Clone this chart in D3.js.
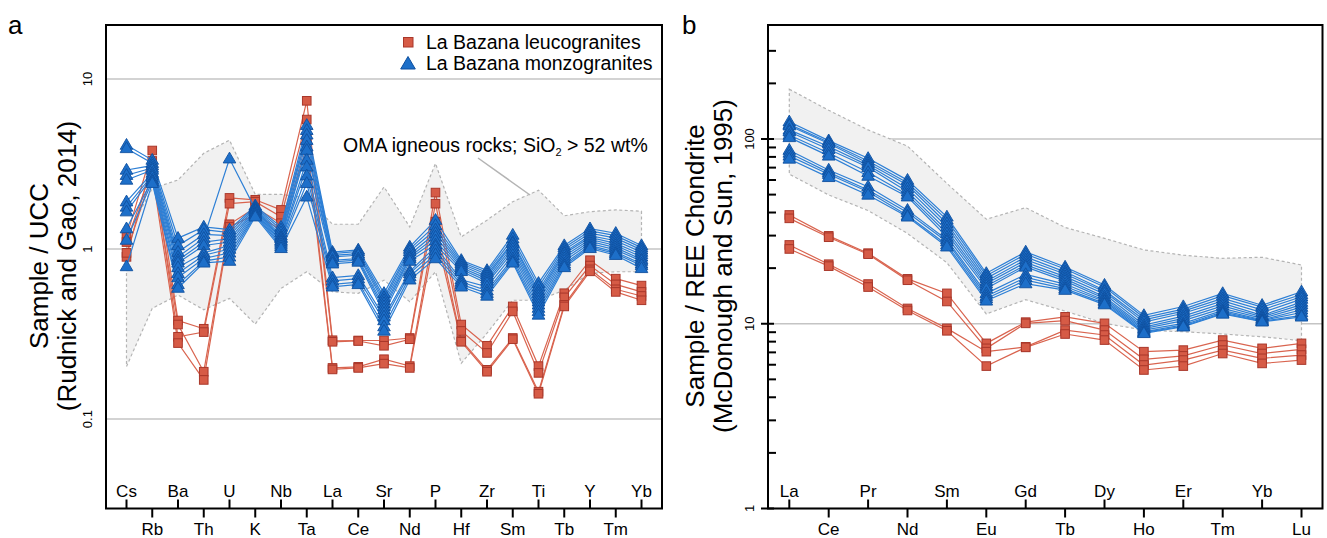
<!DOCTYPE html>
<html><head><meta charset="utf-8">
<script src="https://cdn.jsdelivr.net/npm/d3@7"></script>
<style>
body{margin:0;background:#fff;}
text{font-family:"Liberation Sans",Arial,Helvetica,sans-serif;fill:#000;}
</style></head><body>
<svg id="chart" width="1327" height="538"></svg>
<script>
// ---------- categories ----------
const spiderElements = ["Cs","Rb","Ba","Th","U","K","Nb","Ta","La","Ce","Sr","Nd","P","Hf","Zr","Sm","Ti","Tb","Y","Tm","Yb"];
const reeElements = ["La","Ce","Pr","Nd","Sm","Eu","Gd","Tb","Dy","Ho","Er","Tm","Yb","Lu"];
const yTicksA = [0.1, 1, 10];
const yTicksB = [1, 10, 100];
const yMinorB = [2,3,4,5,6,7,8,9,20,30,40,50,60,70,80,90,200,300];
const seriesNames = ["La Bazana leucogranites", "La Bazana monzogranites"];

// ---------- OMA envelope (panel a, UCC-normalised) ----------
const omaUpper = [1.2,2.27,2.55,3.66,4.37,2.1,2.1,2.0,1.40,1.40,2.32,1.35,3.19,1.18,1.48,1.9,2.22,1.57,1.66,1.7,1.67];
const omaLower = [0.204,0.448,0.537,0.44,0.513,0.362,0.587,0.736,0.561,0.549,0.657,0.49,0.736,0.213,0.32,0.5,0.5,0.574,0.72,0.736,0.736];

// ---------- OMA envelope (panel b, chondrite-normalised) ----------
const reeUpper = [186,143,112,91.5,57.5,36.8,42.5,33.2,29,25.1,23.5,22.6,22.9,20.8];
const reeLower = [64.5,49.8,41,30.8,21.4,11.3,13.5,11.7,10.05,9.24,9.05,8.8,8.5,8.1];

// ---------- leucogranites, UCC-normalised (one row per sample) ----------
const leucoUCC = [
  [1.18,3.8,0.38,0.34,2.0,1.95,1.7,7.45,0.291,0.29,0.29,0.3,2.15,0.36,0.27,0.46,0.205,0.55,0.86,0.67,0.61],
  [0.9,3.3,0.305,0.325,1.85,1.9,1.55,5.78,0.285,0.288,0.27,0.295,1.85,0.33,0.245,0.43,0.187,0.52,0.8,0.62,0.56],
  [1.1,3.0,0.36,0.19,1.4,1.75,1.42,4.5,0.2,0.203,0.225,0.205,1.45,0.29,0.195,0.3,0.145,0.47,0.76,0.58,0.53],
  [0.95,2.8,0.28,0.17,1.35,1.6,1.3,4.0,0.196,0.2,0.212,0.2,1.25,0.285,0.19,0.295,0.141,0.46,0.74,0.56,0.5]
];

// ---------- monzogranites, UCC-normalised (one row per element, 11 samples) ----------
const monzoUCCByElement = [
  [4.09,3.91,2.92,2.72,2.55,1.90,1.77,1.66,1.32,1.13,0.79], // Cs
  [3.34,3.2,3.1,3.0,2.92,2.8,2.72,2.65,2.55,2.5,2.44],      // Rb
  [1.16,1.05,0.96,0.9,0.86,0.83,0.78,0.72,0.68,0.62,0.59],  // Ba
  [1.35,1.3,1.22,1.16,1.1,1.05,0.95,0.92,0.88,0.85,0.83],   // Th
  [1.3,1.25,1.2,3.4,1.15,1.1,1.05,1.0,0.95,0.9,0.85],       // U
  [1.8,1.77,1.74,1.72,1.7,1.68,1.65,1.62,1.6,1.58,1.55],    // K
  [1.35,1.3,1.25,1.2,1.17,1.15,1.12,1.1,1.07,1.04,1.01],    // Nb
  [5.35,5.0,4.7,4.37,4.0,3.82,3.34,3.05,2.7,2.44,2.03],     // Ta
  [0.96,0.94,0.92,0.9,0.86,0.84,0.82,0.68,0.65,0.62,0.6],   // La
  [0.99,0.97,0.94,0.92,0.88,0.86,0.84,0.7,0.67,0.64,0.62],  // Ce
  [0.55,0.52,0.5,0.48,0.46,0.44,0.42,0.4,0.38,0.35,0.33],   // Sr
  [1.03,1.0,0.97,0.93,0.9,0.88,0.85,0.74,0.72,0.69,0.66],   // Nd
  [1.48,1.38,1.3,1.24,1.18,1.12,1.06,1.03,0.98,0.93,0.88],  // P
  [0.86,0.84,0.82,0.8,0.78,0.76,0.74,0.66,0.64,0.62,0.6],   // Hf
  [0.75,0.73,0.71,0.69,0.67,0.65,0.63,0.6,0.57,0.55,0.53],  // Zr
  [1.21,1.15,1.1,1.08,1.04,1.0,0.96,0.92,0.88,0.85,0.83],   // Sm
  [0.63,0.6,0.57,0.55,0.53,0.51,0.49,0.47,0.45,0.43,0.41],  // Ti
  [1.05,1.02,0.99,0.96,0.94,0.91,0.88,0.85,0.82,0.8,0.78],  // Tb
  [1.32,1.28,1.24,1.2,1.17,1.14,1.11,1.08,1.05,1.03,1.01],  // Y
  [1.24,1.2,1.16,1.12,1.08,1.05,1.02,0.99,0.96,0.94,0.92],  // Tm
  [1.05,1.02,0.99,0.96,0.93,0.9,0.87,0.85,0.82,0.8,0.77]    // Yb
];

// ---------- leucogranites, chondrite-normalised (one row per sample) ----------
const leucoREE = [
  [38.8,29.9,24.1,17.5,14.6,7.83,10.2,10.9,10.05,7.06,7.2,8.16,7.36,7.83],
  [37.2,29.4,23.8,17.2,13.2,7.36,10.05,10.4,9.24,6.42,6.7,7.67,6.9,7.27],
  [26.7,21.0,16.4,12.1,9.44,7.06,7.5,9.24,8.69,5.98,6.36,7.2,6.5,6.77],
  [25.4,20.5,15.8,11.8,9.16,5.9,7.45,8.8,8.16,5.62,5.9,6.9,6.1,6.36]
];

// ---------- monzogranites, chondrite-normalised (one row per element, 11 samples) ----------
const monzoREEByElement = [
  [124,120,118,112,109.5,105,102,87,84,81,78],             // La
  [98,96,94.5,91,88,84,81,68,66,64.5,62],                  // Ce
  [78.6,76,73.9,72,70.3,66,63,55.2,53,51.8,49.8],          // Pr
  [59.9,58,56.3,54,51.8,50,48.7,41.2,40,38.5,37.9],        // Nd
  [37.9,36.5,34.9,33.5,32,30.8,29.5,28.5,27.8,26.8,26.1],  // Sm
  [18.75,18.2,17.6,17,16.5,16,15.5,14.6,14.1,13.7,13.3],   // Eu
  [24.5,23.8,23.0,22.2,21.5,20.8,20.3,18.5,17.8,17.2,16.5],// Gd
  [20.3,19.8,19.1,18.6,18.0,17.5,17.0,16.4,15.9,15.5,15.2],// Tb
  [16.2,15.8,15.2,14.9,14.5,14.0,13.7,13.4,13.2,12.9,12.7],// Dy
  [11.1,10.8,10.5,10.2,9.84,9.6,9.4,9.24,9.05,8.95,8.87],  // Ho
  [12.4,12.0,11.7,11.4,11.0,10.7,10.4,10.05,9.85,9.7,9.63],// Er
  [14.6,14.2,13.7,13.3,12.9,12.5,12.1,11.8,11.6,11.4,11.3],// Tm
  [12.6,12.3,11.9,11.5,11.1,10.9,10.7,10.5,10.4,10.3,10.25],// Yb
  [14.9,14.4,14.0,13.6,13.1,12.7,12.3,11.9,11.5,11.1,10.9] // Lu
];

// ================= drawing =================
const svg = d3.select("#chart");
const FONT = '"Liberation Sans",Arial,Helvetica,sans-serif';
const RED = {fill:"#d65b46", stroke:"#a9372a", line:"#d9644f"};
const BLUE = {fill:"#1d6fc9", stroke:"#0e4f9e", line:"#2d7fd5"};
const triPath = "M0,-6.6L6.3,4.2L-6.3,4.2Z";

const PA = {x0:106, x1:662, y0:25, y1:508.5};
const PB = {x0:768, x1:1322.5, y0:25, y1:508.5};

const xA = d3.scalePoint().domain(spiderElements).range([126.5, 641.5]);
const yA = d3.scaleLog().domain([0.0298, 20.8]).range([PA.y1, PA.y0]);
const xB = d3.scalePoint().domain(reeElements).range([789.3, 1301.5]);
const yB = d3.scaleLog().domain([1, 414]).range([PB.y1, PB.y0]);

function drawPanel(g, P, elems, x, y, gridTicks, upper, lower, leuco, monzo) {
  // grid
  g.selectAll(".grid").data(gridTicks).join("line")
    .attr("x1", P.x0).attr("x2", P.x1)
    .attr("y1", d => y(d)).attr("y2", d => y(d))
    .attr("stroke", "#c4c4c4").attr("stroke-width", 1.5);
  // envelope
  const env = elems.map((e, i) => ({e, u: upper[i], l: lower[i]}));
  g.append("path").datum(env)
    .attr("d", d3.area().x(d => x(d.e)).y0(d => y(d.l)).y1(d => y(d.u)))
    .attr("fill", "#f1f1f1");
  const outline = env.map(d => [x(d.e), y(d.u)]).concat(env.slice().reverse().map(d => [x(d.e), y(d.l)]));
  g.append("path").attr("d", d3.line()(outline) + "Z")
    .attr("fill", "none").attr("stroke", "#b4b4b4").attr("stroke-width", 1.2)
    .attr("stroke-dasharray", "3,2.5");

  const line = d3.line().x((v, i) => x(elems[i])).y(v => y(v));
  function series(rows, col, marker) {
    const gs = g.append("g");
    gs.selectAll("path.l").data(rows).join("path")
      .attr("d", line).attr("fill", "none")
      .attr("stroke", col.line).attr("stroke-width", 1.2);
    rows.forEach(r => {
      const pts = r.map((v, i) => [x(elems[i]), y(v)]);
      if (marker === "sq") {
        gs.append("g").selectAll("rect").data(pts).join("rect")
          .attr("x", d => d[0] - 4.3).attr("y", d => d[1] - 4.3)
          .attr("width", 8.6).attr("height", 8.6)
          .attr("fill", col.fill).attr("stroke", col.stroke).attr("stroke-width", 1);
      } else {
        gs.append("g").selectAll("path").data(pts).join("path")
          .attr("d", triPath).attr("transform", d => `translate(${d[0]},${d[1]})`)
          .attr("fill", col.fill).attr("stroke", col.stroke).attr("stroke-width", 0.9);
      }
    });
  }
  series(leuco, RED, "sq");
  series(monzo, BLUE, "tri");

  // frame
  g.append("rect").attr("x", P.x0).attr("y", P.y0)
    .attr("width", P.x1 - P.x0).attr("height", P.y1 - P.y0)
    .attr("fill", "none").attr("stroke", "#000").attr("stroke-width", 2);

  // x ticks & labels, alternating
  elems.forEach((e, i) => {
    const up = i % 2 === 0;
    g.append("line").attr("x1", x(e)).attr("x2", x(e))
      .attr("y1", P.y1).attr("y2", up ? P.y1 - 9 : P.y1 + 9)
      .attr("stroke", "#000").attr("stroke-width", 2);
    g.append("text").attr("x", x(e)).attr("y", up ? P.y1 - 12 : P.y1 + 26)
      .attr("text-anchor", "middle").style("font-size", "17px").text(e);
  });
}

const gA = svg.append("g");
drawPanel(gA, PA, spiderElements, xA, yA, yTicksA, omaUpper, omaLower, leucoUCC, d3.transpose(monzoUCCByElement));
const gB = svg.append("g");
drawPanel(gB, PB, reeElements, xB, yB, yTicksB, reeUpper, reeLower, leucoREE, d3.transpose(monzoREEByElement));

// y tick labels panel a (no tick marks)
yTicksA.forEach(t => {
  svg.append("text").attr("transform", `translate(92,${yA(t)}) rotate(-90)`)
    .attr("text-anchor", "middle").style("font-size", "13px").text(d3.format("~g")(t));
});
// y ticks panel b
yTicksB.forEach(t => {
  svg.append("line").attr("x1", PB.x0 - 7).attr("x2", PB.x0 + 6)
    .attr("y1", yB(t)).attr("y2", yB(t)).attr("stroke", "#000").attr("stroke-width", 2);
  svg.append("text").attr("transform", `translate(754,${yB(t)}) rotate(-90)`)
    .attr("text-anchor", "middle").style("font-size", "13px").text(t);
});
yMinorB.forEach(t => {
  svg.append("line").attr("x1", PB.x0).attr("x2", PB.x0 + 8)
    .attr("y1", yB(t)).attr("y2", yB(t)).attr("stroke", "#000").attr("stroke-width", 2);
});

// axis titles
function vtitle(xb, text, cy) {
  svg.append("text").attr("transform", `translate(${xb},${cy}) rotate(-90)`)
    .attr("text-anchor", "middle").style("font-size", "26px").text(text);
}
vtitle(48, "Sample / UCC", 266);
vtitle(76, "(Rudnick and Gao, 2014)", 266);
vtitle(704, "Sample / REE Chondrite", 266);
vtitle(732, "(McDonough and Sun, 1995)", 266);

// panel letters
svg.append("text").attr("x", 8).attr("y", 34).style("font-size", "26px").text("a");
svg.append("text").attr("x", 682).attr("y", 34).style("font-size", "26px").text("b");

// legend
svg.append("rect").attr("x", 403.5).attr("y", 37.5).attr("width", 9.5).attr("height", 9.5)
  .attr("fill", RED.fill).attr("stroke", RED.stroke).attr("stroke-width", 1);
svg.append("text").attr("x", 426).attr("y", 49).style("font-size", "19.5px").text(seriesNames[0]);
svg.append("path").attr("d", "M0,-7.5L7.3,5L-7.3,5Z").attr("transform", "translate(408,64)")
  .attr("fill", BLUE.fill).attr("stroke", BLUE.stroke).attr("stroke-width", 1);
svg.append("text").attr("x", 426).attr("y", 70).style("font-size", "19.5px").text(seriesNames[1]);

// annotation
svg.append("line").attr("x1", 478).attr("y1", 158).attr("x2", 530).attr("y2", 195)
  .attr("stroke", "#b4b4b4").attr("stroke-width", 1.5);
const ann = svg.append("text").attr("x", 343).attr("y", 152).style("font-size", "19.5px");
ann.append("tspan").text("OMA igneous rocks; SiO");
ann.append("tspan").attr("dy", 4).style("font-size", "11px").text("2");
ann.append("tspan").attr("dy", -4).text(" > 52 wt%");
</script>
</body></html>
